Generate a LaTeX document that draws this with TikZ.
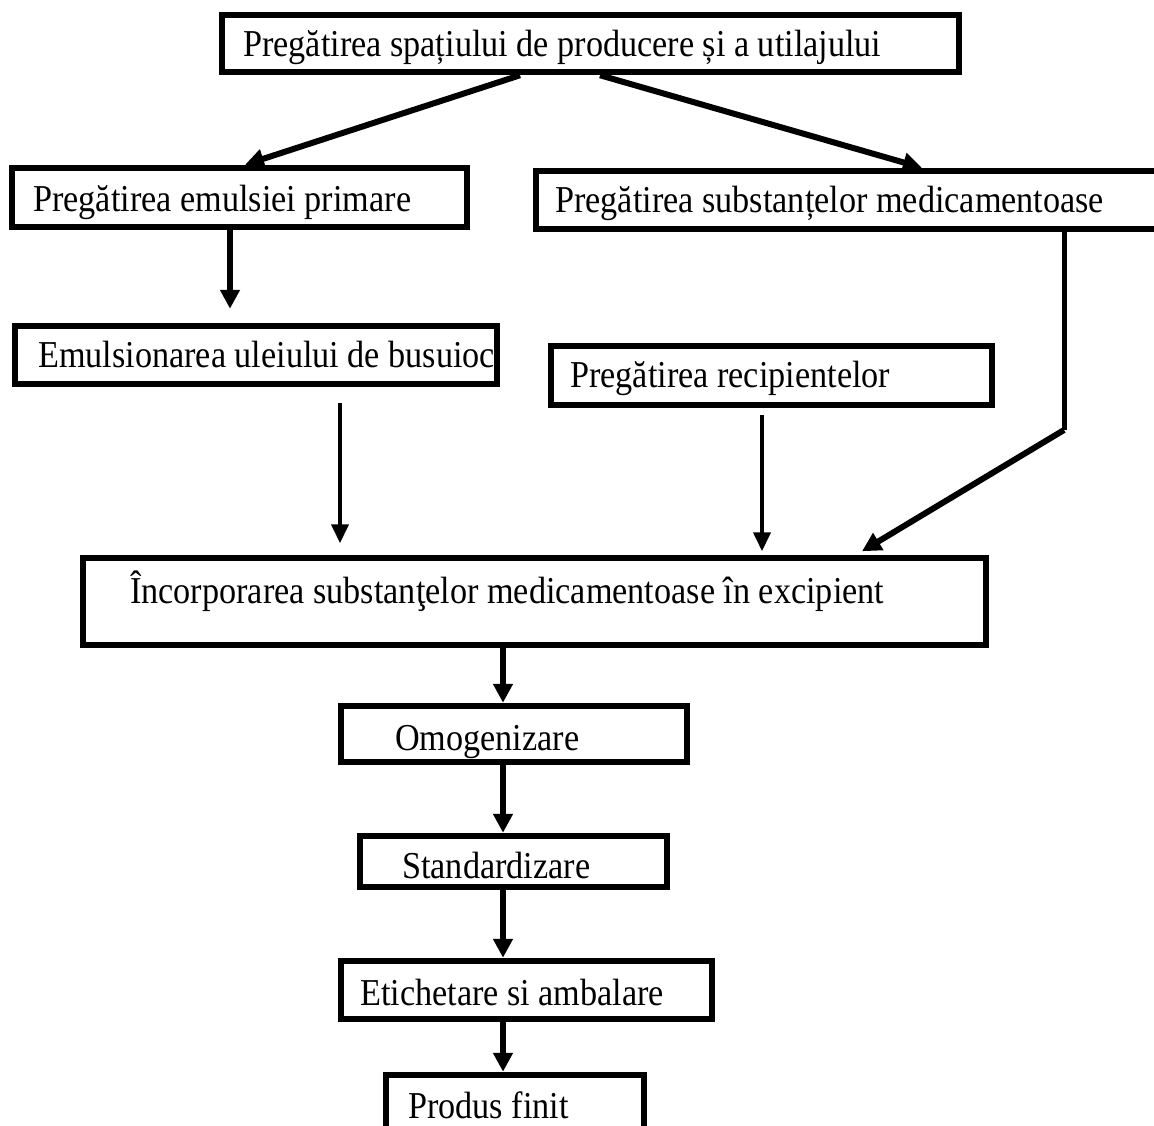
\documentclass[tikz,border=0pt]{standalone}
\usepackage{fontspec}
\setmainfont{Liberation Serif}[FakeStretch=0.9]
\usetikzlibrary{arrows.meta}
\begin{document}
\begin{tikzpicture}[x=1pt,y=-1pt,
  box/.style={draw,line width=6.5pt,rectangle,inner sep=0pt},
  lbl/.style={anchor=base west,inner sep=0pt,font=\fontsize{38}{44}\selectfont},
  arr/.style={line width=6pt,-{Triangle[length=19pt,width=19pt]}},
  thinarr/.style={line width=4pt,-{Triangle[length=19pt,width=17pt]}},
  conn/.style={line width=5pt}]
\useasboundingbox (0,0) rectangle (1154,1126);
\clip (0,0) rectangle (1154,1126);
\fill[white] (0,0) rectangle (1154,1126);
% boxes
\node[box,minimum width=737pt,minimum height=57pt] (top) at (590.5,43.5) {};
\node[box,minimum width=455pt,minimum height=59pt] (b1) at (239.5,197.5) {};
\node[box,minimum width=626pt,minimum height=58pt] (b2) at (849,200) {};
\node[box,minimum width=482pt,minimum height=58pt] (b3) at (256,355) {};
\node[box,minimum width=441pt,minimum height=59pt] (b4) at (771.5,375.5) {};
\node[box,minimum width=903pt,minimum height=87pt] (big) at (534.5,601.5) {};
\node[box,minimum width=346pt,minimum height=56pt] (om) at (514,734) {};
\node[box,minimum width=307pt,minimum height=51pt] (st) at (513.5,861.5) {};
\node[box,minimum width=371pt,minimum height=58pt] (et) at (526.5,990) {};
\node[box,minimum width=258pt,minimum height=62pt] (pf) at (515,1106) {};
% texts
\node[lbl] (ttop) at (243,57) {Pregătirea spațiului de producere și a utilajului};
\node[lbl] (tb1) at (33,212) {Pregătirea emulsiei primare};
\node[lbl] (tb2) at (555,213) {Pregătirea substanțelor medicamentoase};
\node[lbl] (tb3) at (38,367) {Emulsionarea uleiului de busuioc};
\node[lbl] (tb4) at (570,387) {Pregătirea recipientelor};
\node[lbl] (tbig) at (130,603) {Încorporarea substanţelor medicamentoase în excipient};
\node[lbl] (tom) at (395,750) {Omogenizare};
\node[lbl] (tst) at (402,878) {Standardizare};
\node[lbl] (tet) at (360,1005) {Etichetare si ambalare};
\node[lbl] (tpf) at (408,1118) {Produs finit};
% connectors
\draw[arr] ([xshift=-70.5pt]top.south) -- ([xshift=5.5pt]b1.north);
\draw[arr] ([xshift=9.5pt]top.south) -- ([xshift=73pt]b2.north);
\draw[arr] ([xshift=-9.5pt]b1.south) -- ([xshift=-26pt,yshift=14pt]b3.north);
\draw[thinarr] ([xshift=84pt,yshift=-16pt]b3.south) -- ([xshift=-194.5pt,yshift=11.5pt]big.north);
\draw[thinarr] ([xshift=-9.5pt,yshift=-7pt]b4.south) -- ([xshift=227.5pt,yshift=3.5pt]big.north);
\coordinate (bend) at (1064,430);
\draw[conn] ([xshift=215pt]b2.south) -- (bend);
\draw[arr] (bend) -- ([xshift=327.5pt,yshift=3.5pt]big.north);
\draw[arr] ([xshift=-31.5pt]big.south) -- ([xshift=-11pt]om.north);
\draw[arr] ([xshift=-11pt]om.south) -- ([xshift=-10.5pt]st.north);
\draw[arr] ([xshift=-10.5pt]st.south) -- ([xshift=-23.5pt]et.north);
\draw[arr] ([xshift=-23.5pt]et.south) -- ([xshift=-12pt]pf.north);
\end{tikzpicture}
\end{document}
